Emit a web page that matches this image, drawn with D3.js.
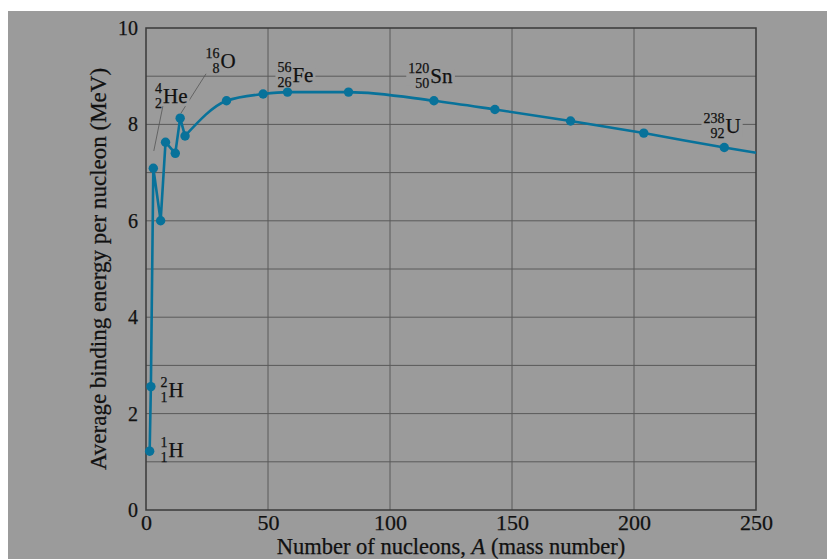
<!DOCTYPE html>
<html>
<head>
<meta charset="utf-8">
<script src="https://cdn.jsdelivr.net/npm/d3@7"></script>
<style>
  body { margin: 0; background: #ffffff; }
  svg { display: block; }
  text { font-family: "Liberation Serif", "Times New Roman", serif; fill: #111; stroke: #111; stroke-width: 0.25px; }
</style>
</head>
<body>
<div id="chart"></div>
<script>
// Binding energy curve
var massNumbers = [1.5, 2, 3, 6, 8, 12, 14, 16, 33, 48, 58, 83, 118, 143, 174, 204, 237];
var bindingEnergies = [1.22, 2.56, 7.09, 6.0, 7.63, 7.4, 8.13, 7.76, 8.49, 8.63, 8.67, 8.67, 8.49, 8.31, 8.07, 7.82, 7.52];
// the curve keeps going to the right edge without a marker
var curveEndA = 250;
var curveEndE = 7.41;

var xTicks = [0, 50, 100, 150, 200, 250];
var yTicks = [0, 2, 4, 6, 8, 10];

// nuclide labels: symbol, mass number, atomic number
var labelSymbols = ["H", "H", "He", "O", "Fe", "Sn", "U"];
var labelMass = ["1", "2", "4", "16", "56", "120", "238"];
var labelZ = ["1", "1", "2", "8", "26", "50", "92"];
// where each label sits, in data units (A, energy at symbol baseline)
var labelA = [9.2, 9.2, 7.0, 30.5, 60.0, 116.5, 237.5];
var labelE = [1.1, 2.35, 8.44, 9.17, 8.89, 8.86, 7.82];

var svgWidth = 827;
var svgHeight = 559;

var margin = { top: 28, right: 71, bottom: 49, left: 146 };
var width = svgWidth - margin.left - margin.right;
var height = svgHeight - margin.top - margin.bottom;

var svg = d3.select("#chart")
  .append("svg")
  .attr("width", svgWidth)
  .attr("height", svgHeight);

// grey page behind everything
svg.append("rect")
  .attr("x", 8)
  .attr("y", 11)
  .attr("width", svgWidth - 8)
  .attr("height", svgHeight - 11)
  .attr("fill", "#9b9b9b");

var chartGroup = svg.append("g")
  .attr("transform", `translate(${margin.left}, ${margin.top})`);

var xLinearScale = d3.scaleLinear().domain([0, 250]).range([0, width]);
var yLinearScale = d3.scaleLinear().domain([0, 10]).range([height, 0]);

// grid lines, every 1 MeV and every 50 nucleons
var gridGroup = chartGroup.append("g").attr("class", "grid");

gridGroup.selectAll(".hgrid")
  .data(d3.range(1, 10))
  .enter()
  .append("line")
  .attr("x1", 0)
  .attr("x2", width)
  .attr("y1", d => yLinearScale(d))
  .attr("y2", d => yLinearScale(d))
  .attr("stroke", "#5a5a5a")
  .attr("stroke-width", 1);

gridGroup.selectAll(".vgrid")
  .data(xTicks.slice(1, -1))
  .enter()
  .append("line")
  .attr("y1", 0)
  .attr("y2", height)
  .attr("x1", d => xLinearScale(d))
  .attr("x2", d => xLinearScale(d))
  .attr("stroke", "#5a5a5a")
  .attr("stroke-width", 1);

// axes (only the labels, the frame is drawn below)
var bottomAxis = d3.axisBottom(xLinearScale).tickValues(xTicks).tickSize(0).tickPadding(4);
var leftAxis = d3.axisLeft(yLinearScale).tickValues(yTicks).tickSize(0).tickPadding(8);

var xAxis = chartGroup.append("g")
  .attr("transform", `translate(0, ${height})`)
  .call(bottomAxis);
xAxis.select(".domain").remove();
xAxis.selectAll("text")
  .attr("font-size", "22px")
  .attr("font-family", "Liberation Serif, serif")
  .attr("fill", "#111");

var yAxis = chartGroup.append("g")
  .call(leftAxis);
yAxis.select(".domain").remove();
yAxis.selectAll("text")
  .attr("font-size", "20px")
  .attr("font-family", "Liberation Serif, serif")
  .attr("fill", "#111");

// frame
chartGroup.append("rect")
  .attr("width", width)
  .attr("height", height)
  .attr("fill", "none")
  .attr("stroke", "#3a3a3a")
  .attr("stroke-width", 1.5);

// leader lines for He and O
var leaders = [[3.2, 7.45, 7.4, 8.5], [14.3, 8.23, 24.6, 9.05]];
chartGroup.selectAll(".leader")
  .data(leaders)
  .enter()
  .append("line")
  .attr("x1", d => xLinearScale(d[0]))
  .attr("y1", d => yLinearScale(d[1]))
  .attr("x2", d => xLinearScale(d[2]))
  .attr("y2", d => yLinearScale(d[3]))
  .attr("stroke", "#555")
  .attr("stroke-width", 0.8);

// nuclide labels
labelSymbols.forEach(function(sym, i) {
  var g = chartGroup.append("g")
    .attr("transform", `translate(${xLinearScale(labelA[i])}, ${yLinearScale(labelE[i])})`);
  var bg = g.append("rect").attr("fill", "#9b9b9b");
  g.append("text")
    .attr("x", 0)
    .attr("y", 0)
    .attr("font-size", "21px")
    .text(sym);
  g.append("text")
    .attr("x", -1)
    .attr("y", -10)
    .attr("text-anchor", "end")
    .attr("font-size", "14px")
    .text(labelMass[i]);
  g.append("text")
    .attr("x", -1)
    .attr("y", 5)
    .attr("text-anchor", "end")
    .attr("font-size", "14px")
    .text(labelZ[i]);
  var box = g.node().getBBox();
  bg.attr("x", box.x - 2)
    .attr("y", -13)
    .attr("width", box.width + 4)
    .attr("height", 16);
});

// the curve: straight pieces through the light nuclei, smooth after that
var points = massNumbers.map((a, i) => [a, bindingEnergies[i]]);
var tail = points.slice(7).concat([[curveEndA, curveEndE]]);

var lineGen = d3.line()
  .x(d => xLinearScale(d[0]))
  .y(d => yLinearScale(d[1]));

chartGroup.append("path")
  .attr("d", lineGen.curve(d3.curveLinear)(points.slice(0, 8)))
  .attr("fill", "none")
  .attr("stroke", "#08729a")
  .attr("stroke-width", 2.6)
  .attr("stroke-linejoin", "round");

chartGroup.append("path")
  .attr("d", lineGen.curve(d3.curveMonotoneX)(tail))
  .attr("fill", "none")
  .attr("stroke", "#08729a")
  .attr("stroke-width", 2.6);

chartGroup.selectAll("circle")
  .data(points)
  .enter()
  .append("circle")
  .attr("cx", d => xLinearScale(d[0]))
  .attr("cy", d => yLinearScale(d[1]))
  .attr("r", 4.7)
  .attr("fill", "#08729a");

// axis titles
chartGroup.append("text")
  .attr("x", width / 2)
  .attr("y", height + 44)
  .attr("text-anchor", "middle")
  .attr("font-size", "22.5px")
  .html("Number of nucleons, <tspan font-style='italic'>A</tspan> (mass number)");

chartGroup.append("text")
  .attr("transform", "rotate(-90)")
  .attr("x", -height / 2)
  .attr("y", -40)
  .attr("text-anchor", "middle")
  .attr("font-size", "23px")
  .text("Average binding energy per nucleon (MeV)");
</script>
</body>
</html>
